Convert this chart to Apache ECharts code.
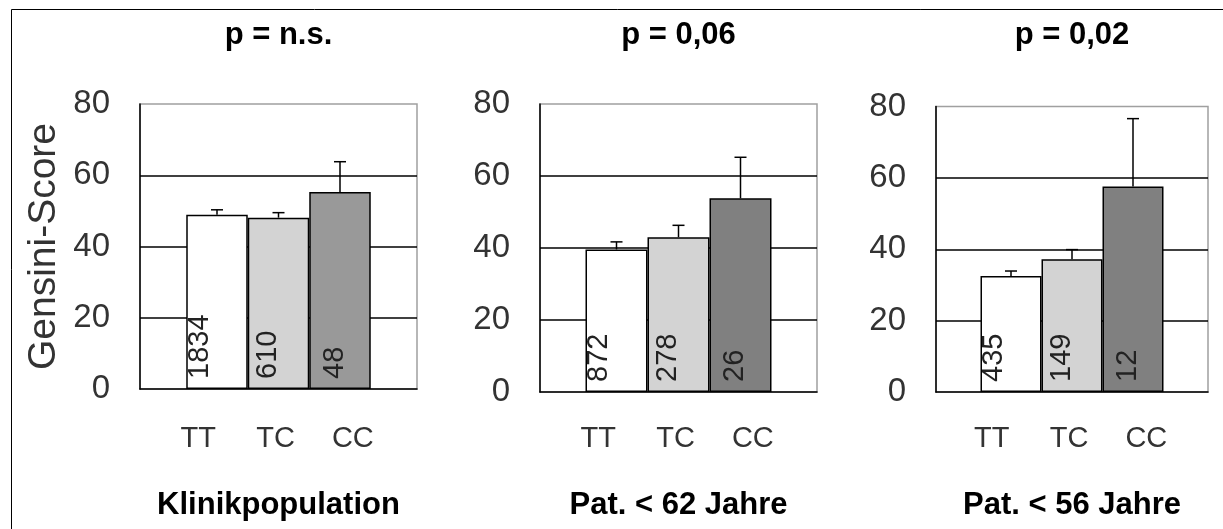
<!DOCTYPE html>
<html><head><meta charset="utf-8">
<script src="https://cdn.jsdelivr.net/npm/echarts@6/dist/echarts.min.js"></script>
<style>html,body{margin:0;padding:0;background:#fff}#c{width:1223px;height:529px}</style>
</head><body><div id="c"></div>
<script>
// ---- data ----
const categories = ['TT', 'TC', 'CC'];
const pTitles = ['p = n.s.', 'p = 0,06', 'p = 0,02'];
const groupNames = ['Klinikpopulation', 'Pat. < 62 Jahre', 'Pat. < 56 Jahre'];
const yName = 'Gensini-Score';
const yMin = 0, yMax = 80, yStep = 20;

const meanKlinik = [48.9, 48.1, 55.3];
const errKlinik  = [1.4, 1.4, 8.5];
const nKlinik    = [1834, 610, 48];

const mean62 = [39.6, 43.0, 53.8];
const err62  = [2.1, 3.3, 11.4];
const n62    = [872, 278, 26];

const mean56 = [32.5, 37.2, 57.6];
const err56  = [1.4, 2.7, 19.0];
const n56    = [435, 149, 12];

// ---- layout / style ----
const panels = [
  { mean: meanKlinik, err: errKlinik, n: nKlinik, left: 140, right: 417, top: 104, bottom: 389, bw: 61.5,
    colors: ['#ffffff', '#d3d3d3', '#999999'] },
  { mean: mean62, err: err62, n: n62, left: 540, right: 817, top: 104, bottom: 392, bw: 62,
    colors: ['#ffffff', '#d3d3d3', '#808080'] },
  { mean: mean56, err: err56, n: n56, left: 936, right: 1208, top: 106.5, bottom: 392, bw: 61,
    colors: ['#ffffff', '#d3d3d3', '#808080'] }
];
const labelX = [-1, 6, 11];
const thinFont = '"Liberation Sans Narrow", "Liberation Sans", Arial, sans-serif';
const regFont = '"Liberation Sans", Arial, sans-serif';

const grid = [], xAxis = [], yAxis = [], series = [], title = [];
panels.forEach((P, p) => {
  const cx = (P.left + P.right) / 2;
  grid.push({ left: P.left, top: P.top, width: P.right - P.left, height: P.bottom - P.top,
    show: true, borderColor: '#a0a0a0', borderWidth: 1.5, backgroundColor: '#fff' });
  grid.push({ left: cx - 119, width: 232, top: 420, height: 1 });
  xAxis.push({ type: 'category', gridIndex: 2 * p, data: [''],
    axisLine: { lineStyle: { color: '#000', width: 1.5 } }, axisTick: { show: false }, axisLabel: { show: false } });
  xAxis.push({ type: 'category', gridIndex: 2 * p + 1, data: categories,
    axisLine: { show: false }, axisTick: { show: false },
    axisLabel: { fontSize: 29, fontFamily: regFont, color: '#333', margin: 3 } });
  yAxis.push({ type: 'value', gridIndex: 2 * p, min: yMin, max: yMax, interval: yStep,
    axisLine: { show: true, lineStyle: { color: '#000', width: 1.5 } }, axisTick: { show: false },
    splitLine: { show: true, showMinLine: false, showMaxLine: false, lineStyle: { color: '#000', width: 1.5 } },
    axisLabel: { fontSize: 33, fontFamily: thinFont, color: '#333', margin: 30 },
    name: p === 0 ? yName : '', nameLocation: 'middle', nameGap: 76,
    nameTextStyle: { fontSize: 39, fontFamily: regFont, color: '#333' } });
  yAxis.push({ type: 'value', gridIndex: 2 * p + 1, show: false });

  categories.forEach((c, j) => {
    series.push({
      type: 'bar', name: c, xAxisIndex: 2 * p, yAxisIndex: 2 * p,
      barWidth: P.bw, barGap: '0%', animation: false, silent: true,
      data: [{ value: P.mean[j], n: P.n[j] }],
      itemStyle: { color: P.colors[j], borderColor: '#000', borderWidth: 1.5 },
      label: { show: true, position: [labelX[j], '100%'], rotate: 90, align: 'left', verticalAlign: 'top',
        padding: [0, 0, 0, 10], formatter: (prm) => String(prm.data.n),
        fontSize: 29, fontFamily: thinFont, color: '#222' }
    });
  });
  const bw = P.bw;
  series.push({
    type: 'custom', xAxisIndex: 2 * p, yAxisIndex: 2 * p, animation: false, silent: true, z: 5,
    data: P.mean.map((m, j) => [0, m, P.err[j], j]),
    encode: { x: 0, y: 1 },
    renderItem: (params, api) => {
      const j = api.value(3), m = api.value(1), e = api.value(2);
      const base = api.coord([0, m]);
      const top = api.coord([0, m + e]);
      const x = base[0] + (j - 1) * bw;
      return { type: 'group', children: [
        { type: 'line', shape: { x1: x, y1: base[1], x2: x, y2: top[1] }, style: { stroke: '#000', lineWidth: 1.5 } },
        { type: 'line', shape: { x1: x - 6, y1: top[1], x2: x + 6, y2: top[1] }, style: { stroke: '#000', lineWidth: 1.5 } }
      ] };
    }
  });
  title.push({ text: pTitles[p], left: cx, top: 20, textAlign: 'center', padding: 0,
    textStyle: { fontSize: 31, fontWeight: 'bold', fontFamily: regFont, color: '#000' } });
  title.push({ text: groupNames[p], left: cx, top: 490, textAlign: 'center', padding: 0,
    textStyle: { fontSize: 31, fontWeight: 'bold', fontFamily: regFont, color: '#000' } });
});

const chart = echarts.init(document.getElementById('c'), null, { renderer: 'canvas' });
chart.setOption({
  animation: false,
  backgroundColor: '#fff',
  title, grid, xAxis, yAxis, series,
  graphic: [{ type: 'rect', silent: true, z: -10,
    shape: { x: 11.5, y: 9.5, width: 1300, height: 600 },
    style: { fill: null, stroke: '#000', lineWidth: 1 } }]
});
</script>
</body></html>
